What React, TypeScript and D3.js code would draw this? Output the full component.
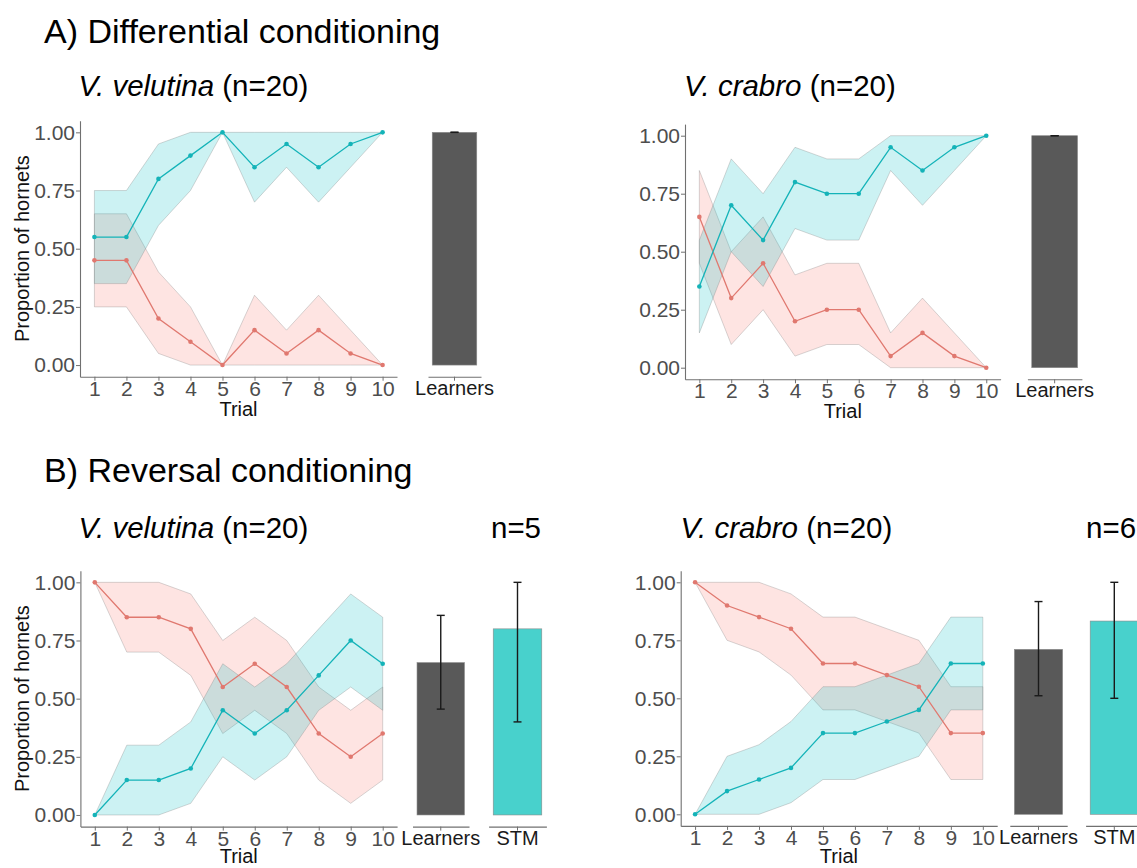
import React, { useEffect, useRef } from 'react';
import * as d3 from 'd3';

const trials = [1, 2, 3, 4, 5, 6, 7, 8, 9, 10];
const yTicks = [0, 0.25, 0.5, 0.75, 1];

// A) differential conditioning - V. velutina
const diffVelCorrect = [0.55, 0.55, 0.8, 0.9, 1.0, 0.85, 0.95, 0.85, 0.95, 1.0];
const diffVelCorrectLo = [0.35, 0.35, 0.6, 0.75, 1.0, 0.7, 0.85, 0.7, 0.85, 1.0];
const diffVelCorrectHi = [0.75, 0.75, 0.95, 1.0, 1.0, 1.0, 1.0, 1.0, 1.0, 1.0];
const diffVelWrong = [0.45, 0.45, 0.2, 0.1, 0, 0.15, 0.05, 0.15, 0.05, 0];
const diffVelWrongLo = [0.25, 0.25, 0.05, 0, 0, 0, 0, 0, 0, 0];
const diffVelWrongHi = [0.65, 0.65, 0.4, 0.25, 0, 0.3, 0.15, 0.3, 0.15, 0];

// A) differential conditioning - V. crabro
const diffCraCorrect = [0.35, 0.7, 0.55, 0.8, 0.75, 0.75, 0.95, 0.85, 0.95, 1.0];
const diffCraCorrectLo = [0.15, 0.5, 0.35, 0.6, 0.55, 0.55, 0.85, 0.7, 0.85, 1.0];
const diffCraCorrectHi = [0.55, 0.9, 0.75, 0.95, 0.9, 0.9, 1.0, 1.0, 1.0, 1.0];
const diffCraWrong = [0.65, 0.3, 0.45, 0.2, 0.25, 0.25, 0.05, 0.15, 0.05, 0];
const diffCraWrongLo = [0.45, 0.1, 0.25, 0.05, 0.1, 0.1, 0, 0, 0, 0];
const diffCraWrongHi = [0.85, 0.5, 0.65, 0.4, 0.45, 0.45, 0.15, 0.3, 0.15, 0];

// B) reversal conditioning - V. velutina
const revVelCorrect = [0, 0.15, 0.15, 0.2, 0.45, 0.35, 0.45, 0.6, 0.75, 0.65];
const revVelCorrectLo = [0, 0, 0, 0.05, 0.25, 0.15, 0.25, 0.45, 0.55, 0.45];
const revVelCorrectHi = [0, 0.3, 0.3, 0.4, 0.65, 0.55, 0.65, 0.8, 0.95, 0.85];
const revVelWrong = [1.0, 0.85, 0.85, 0.8, 0.55, 0.65, 0.55, 0.35, 0.25, 0.35];
const revVelWrongLo = [1.0, 0.7, 0.7, 0.6, 0.35, 0.45, 0.35, 0.15, 0.05, 0.15];
const revVelWrongHi = [1.0, 1.0, 1.0, 0.95, 0.75, 0.85, 0.75, 0.55, 0.45, 0.55];

// B) reversal conditioning - V. crabro
const revCraCorrect = [0, 0.1, 0.15, 0.2, 0.35, 0.35, 0.4, 0.45, 0.65, 0.65];
const revCraCorrectLo = [0, 0, 0, 0.05, 0.15, 0.15, 0.2, 0.25, 0.45, 0.45];
const revCraCorrectHi = [0, 0.25, 0.3, 0.4, 0.55, 0.55, 0.6, 0.65, 0.85, 0.85];
const revCraWrong = [1.0, 0.9, 0.85, 0.8, 0.65, 0.65, 0.6, 0.55, 0.35, 0.35];
const revCraWrongLo = [1.0, 0.75, 0.7, 0.6, 0.45, 0.45, 0.4, 0.35, 0.15, 0.15];
const revCraWrongHi = [1.0, 1.0, 1.0, 0.95, 0.85, 0.85, 0.8, 0.75, 0.55, 0.55];

// proportion of learners / short term memory (bars with error bars)
const barCats = ['Learners', 'STM'];
const diffVelBars = [1.0];
const diffVelBarLo = [1.0];
const diffVelBarHi = [1.0];
const diffCraBars = [1.0];
const diffCraBarLo = [1.0];
const diffCraBarHi = [1.0];
const revVelBars = [0.655, 0.8];
const revVelBarLo = [0.455, 0.4];
const revVelBarHi = [0.858, 1.0];
const revCraBars = [0.711, 0.833];
const revCraBarLo = [0.511, 0.5];
const revCraBarHi = [0.917, 1.0];

const RED = '#F8766D';
const CYAN = '#00BFC4';
const FONT = '"Liberation Sans", Arial, sans-serif';

const panels = [
  {
    left: 80, right: 397, top: 120.7, bottom: 376.7, ylab: true,
    correct: [diffVelCorrect, diffVelCorrectLo, diffVelCorrectHi],
    wrong: [diffVelWrong, diffVelWrongLo, diffVelWrongHi],
    bars: [diffVelBars, diffVelBarLo, diffVelBarHi],
    facets: [[428, 481]]
  },
  {
    left: 685, right: 1000.6, top: 124.1, bottom: 379.3, ylab: false,
    correct: [diffCraCorrect, diffCraCorrectLo, diffCraCorrectHi],
    wrong: [diffCraWrong, diffCraWrongLo, diffCraWrongHi],
    bars: [diffCraBars, diffCraBarLo, diffCraBarHi],
    facets: [[1027.4, 1081.9]]
  },
  {
    left: 80.4, right: 397.1, top: 570.7, bottom: 826.6, ylab: true,
    correct: [revVelCorrect, revVelCorrectLo, revVelCorrectHi],
    wrong: [revVelWrong, revVelWrongLo, revVelWrongHi],
    bars: [revVelBars, revVelBarLo, revVelBarHi],
    facets: [[412.5, 469], [488.6, 546.4]]
  },
  {
    left: 680.7, right: 997.2, top: 570.7, bottom: 825.9, ylab: false,
    correct: [revCraCorrect, revCraCorrectLo, revCraCorrectHi],
    wrong: [revCraWrong, revCraWrongLo, revCraWrongHi],
    bars: [revCraBars, revCraBarLo, revCraBarHi],
    facets: [[1009.8, 1067.2], [1085.6, 1143]]
  }
];

const styleAxis = (ax) => {
  ax.attr('font-family', FONT).attr('font-size', 21);
  ax.select('.domain').attr('stroke', '#707070').attr('stroke-width', 1.1);
  ax.selectAll('.tick line').attr('stroke', '#707070');
  ax.selectAll('.tick text').attr('fill', '#4d4d4d');
};

const App = () => {
  const ref = useRef(null);

  useEffect(() => {
    const svg = d3.select(ref.current);
    svg.selectAll('*').remove();

    panels.forEach(p => {
      const x = d3.scaleLinear().domain([0.55, 10.45]).range([p.left, p.right]);
      const y = d3.scaleLinear().domain([-0.05, 1.05]).range([p.bottom, p.top]);
      const g = svg.append('g');

      const series = [
        { data: p.wrong, color: RED, line: '#E0786F' },
        { data: p.correct, color: CYAN, line: '#14B3B8' }
      ];

      // ribbons first
      series.forEach(s => {
        const [, lo, hi] = s.data;
        const area = d3.area()
          .x((d, i) => x(trials[i]))
          .y0((d, i) => y(lo[i]))
          .y1((d, i) => y(hi[i]));
        g.append('path')
          .datum(trials)
          .attr('d', area)
          .attr('fill', s.color)
          .attr('fill-opacity', 0.2)
          .attr('stroke', '#7a7a7a')
          .attr('stroke-opacity', 0.3)
          .attr('stroke-width', 1);
      });

      series.forEach(s => {
        const [mean] = s.data;
        const line = d3.line()
          .x((d, i) => x(trials[i]))
          .y((d, i) => y(mean[i]));
        g.append('path')
          .datum(trials)
          .attr('d', line)
          .attr('fill', 'none')
          .attr('stroke', s.line)
          .attr('stroke-width', 1.3);
        g.append('g')
          .selectAll('circle')
          .data(mean)
          .join('circle')
          .attr('cx', (d, i) => x(trials[i]))
          .attr('cy', d => y(d))
          .attr('r', 2.3)
          .attr('fill', s.line);
      });

      // axes
      const ay = g.append('g')
        .attr('transform', `translate(${p.left},0)`)
        .call(d3.axisLeft(y).tickValues(yTicks).tickFormat(d3.format('.2f')).tickSize(4).tickSizeOuter(0).tickPadding(1));
      styleAxis(ay);
      const ax = g.append('g')
        .attr('transform', `translate(0,${p.bottom})`)
        .call(d3.axisBottom(x).tickValues(trials).tickFormat(d3.format('d')).tickSize(4).tickSizeOuter(0).tickPadding(0));
      styleAxis(ax);

      g.append('text')
        .attr('x', (p.left + p.right) / 2)
        .attr('y', Math.min(p.bottom + 39, 862.5))
        .attr('text-anchor', 'middle')
        .attr('font-family', FONT)
        .attr('font-size', 20)
        .attr('fill', '#111')
        .text('Trial');

      if (p.ylab) {
        g.append('text')
          .attr('transform', `translate(29,${(p.top + p.bottom) / 2}) rotate(-90)`)
          .attr('text-anchor', 'middle')
          .attr('font-family', FONT)
          .attr('font-size', 20)
          .attr('fill', '#111')
          .text('Proportion of hornets');
      }

      // bar facets
      const [vals, lo, hi] = p.bars;
      p.facets.forEach((f, i) => {
        const cat = barCats[i];
        const xb = d3.scaleBand().domain([cat]).range(f).paddingInner(0.16).paddingOuter(0.08);
        const bx = xb(cat);
        const bw = xb.bandwidth();
        const cx = bx + bw / 2;
        g.append('rect')
          .attr('x', bx)
          .attr('y', y(vals[i]))
          .attr('width', bw)
          .attr('height', y(0) - y(vals[i]))
          .attr('fill', i === 0 ? '#595959' : '#48D1CC')
          .attr('stroke', '#8a8a8a')
          .attr('stroke-width', 0.6);
        const eb = g.append('g').attr('stroke', '#1a1a1a').attr('stroke-width', 1.4);
        eb.append('line').attr('x1', cx).attr('x2', cx).attr('y1', y(lo[i])).attr('y2', y(hi[i]));
        [lo[i], hi[i]].forEach(v => {
          eb.append('line').attr('x1', cx - 4).attr('x2', cx + 4).attr('y1', y(v)).attr('y2', y(v));
        });
        const axb = g.append('g')
          .attr('transform', `translate(0,${p.bottom})`)
          .call(d3.axisBottom(xb).tickSize(4).tickSizeOuter(0).tickPadding(0));
        styleAxis(axb);
        axb.attr('font-size', 20);
        axb.selectAll('.tick text').attr('fill', '#1a1a1a');
      });
    });

    const title = (txt, tx, ty) => svg.append('text')
      .attr('x', tx).attr('y', ty)
      .attr('font-family', FONT).attr('font-size', 34).attr('fill', '#000')
      .text(txt);
    title('A) Differential conditioning', 44, 43);
    title('B) Reversal conditioning', 44, 482);

    const sub = (species, tx, ty) => {
      const t = svg.append('text')
        .attr('x', tx).attr('y', ty)
        .attr('font-family', FONT).attr('font-size', 29.5).attr('fill', '#000');
      t.append('tspan').attr('font-style', 'italic').text(species);
      t.append('tspan').text(' (n=20)');
    };
    sub('V. velutina', 78.5, 96);
    sub('V. crabro', 684, 96);
    sub('V. velutina', 78.5, 538);
    sub('V. crabro', 680.5, 538);

    svg.append('text')
      .attr('x', 516).attr('y', 538).attr('text-anchor', 'middle')
      .attr('font-family', FONT).attr('font-size', 29.5).attr('fill', '#000')
      .text('n=5');
    svg.append('text')
      .attr('x', 1086).attr('y', 538)
      .attr('font-family', FONT).attr('font-size', 29.5).attr('fill', '#000')
      .text('n=6');
  }, []);

  return (
    <svg
      ref={ref}
      width={1137}
      height={868}
      style={{ position: 'absolute', left: 0, top: 0, background: '#fff' }}
    />
  );
};

export default App;
